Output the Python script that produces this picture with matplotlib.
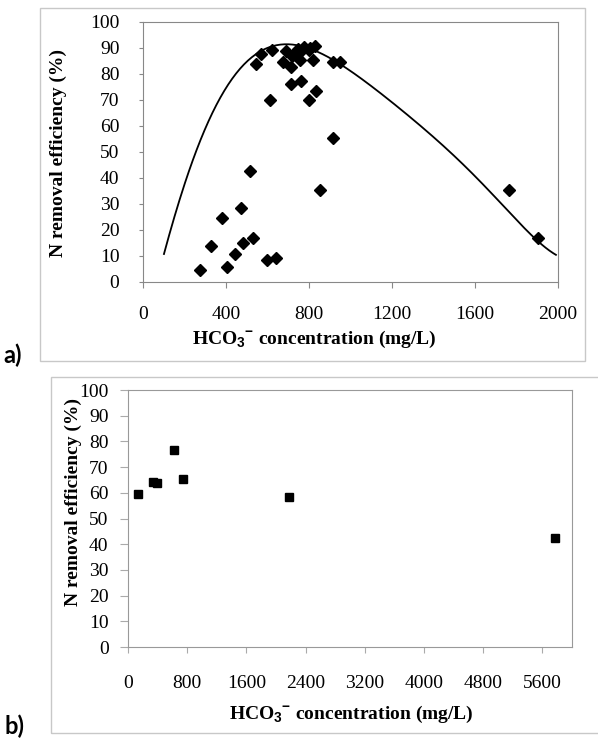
import numpy as np
import matplotlib
matplotlib.use("Agg")
import matplotlib.pyplot as plt
from matplotlib.patches import Rectangle

plt.rcParams['font.family'] = 'serif'
plt.rcParams['font.serif'] = ['Liberation Serif', 'DejaVu Serif']
plt.rcParams['mathtext.fontset'] = 'custom'
plt.rcParams['mathtext.rm'] = 'Liberation Serif'
plt.rcParams['mathtext.bf'] = 'Liberation Sans:bold'

# panel a) measured points
a_x = [273, 327, 383, 404, 441, 472, 481, 515, 528, 545, 571, 598, 614, 624,
       643, 674, 688, 712, 715, 719, 747, 757, 760, 763, 774, 799, 800, 807,
       821, 829, 834, 855, 916, 916, 948, 1766, 1904]
a_y = [4.8, 14.0, 24.7, 5.8, 10.7, 28.3, 15.0, 42.7, 16.8, 83.9, 87.7, 8.5,
       69.9, 89.3, 9.1, 84.6, 88.9, 82.6, 76.2, 87.1, 89.7, 85.3, 77.5, 88.9,
       90.2, 89.1, 70.1, 90.0, 85.2, 90.7, 73.4, 35.2, 84.8, 55.5, 84.6, 35.2,
       16.8]

# panel a) trend curve
curve_x = [101, 146, 194, 251, 323, 411, 532, 628, 661, 740, 821, 949, 1094,
           1239, 1335, 1447, 1640, 1833, 1990]
curve_y = [10.4, 23.8, 36.7, 49.5, 62.3, 75.1, 88.0, 91.2, 91.5, 90.8, 88.6,
           84.1, 75.1, 67.4, 60.4, 52.0, 37.3, 21.3, 10.4]

# panel b) measured points
b_x = [131, 342, 387, 622, 743, 2171, 5766]
b_y = [59.6, 64.2, 63.8, 76.7, 65.5, 58.4, 42.4]

a_xticks = [0, 400, 800, 1200, 1600, 2000]
b_xticks = [0, 800, 1600, 2400, 3200, 4000, 4800, 5600]
yticks = list(range(0, 101, 10))

W, H = 598, 738
fs = 14
fig = plt.figure(figsize=(W / 100, H / 100), dpi=100)

# outer frames
fig.patches.append(Rectangle((40 / W, 1 - 361 / H), 545 / W, 353 / H,
                             transform=fig.transFigure, fill=False,
                             edgecolor='#c8c8c8', lw=1.0))
fig.patches.append(Rectangle((51 / W, 1 - 733 / H), 560 / W, 356 / H,
                             transform=fig.transFigure, fill=False,
                             edgecolor='#c8c8c8', lw=1.0))

xlabel = r'HCO$_\mathbf{3}$$^\mathbf{-}$ concentration (mg/L)'
ylabel = 'N removal efficiency (%)'

# ---- panel a
ax1 = fig.add_axes([143 / W, 1 - 282 / H, 415 / W, 260 / H])
fit = np.polyfit(curve_x, curve_y, 6)
xs = np.linspace(curve_x[0], curve_x[-1], 300)
ax1.plot(xs, np.polyval(fit, xs), color='black', lw=1.3)
ax1.plot(a_x, a_y, linestyle='none', marker='D', ms=6, color='black')
ax1.set_xlim(0, 2000)
ax1.set_ylim(0, 100)
ax1.set_xticks(a_xticks)
ax1.set_yticks(yticks)
ax1.tick_params(axis='x', direction='out', length=4, color='#888888',
                labelsize=fs, pad=13)
ax1.tick_params(axis='y', direction='out', length=3, color='#888888',
                labelsize=fs, pad=14)
for s in ax1.spines.values():
    s.set_color('#888888')
ax1.set_xlabel(xlabel, fontsize=fs, fontweight='bold')
ax1.set_ylabel(ylabel, fontsize=fs, fontweight='bold')
ax1.xaxis.set_label_coords(0.412, -0.18)
ax1.yaxis.set_label_coords(-0.183, 0.496)

# ---- panel b
ax2 = fig.add_axes([128 / W, 1 - 647 / H, 444 / W, 257 / H])
ax2.plot(b_x, b_y, linestyle='none', marker='s', ms=6, color='black')
ax2.set_xlim(0, 6000)
ax2.set_ylim(0, 100)
ax2.set_xticks(b_xticks)
ax2.set_yticks(yticks)
ax2.tick_params(axis='x', direction='out', length=4, color='#aaaaaa',
                labelsize=fs, pad=16)
ax2.tick_params(axis='y', direction='out', length=6, color='#aaaaaa',
                labelsize=fs, pad=8)
for s in ax2.spines.values():
    s.set_color('#999999')
ax2.set_xlabel(xlabel, fontsize=fs, fontweight='bold')
ax2.set_ylabel(ylabel, fontsize=fs, fontweight='bold')
ax2.xaxis.set_label_coords(0.502, -0.222)
ax2.yaxis.set_label_coords(-0.104, 0.565)

fig.text(3 / W, 1 - 367 / H, 'a)', fontsize=17, fontweight='bold',
         family=['Lato', 'DejaVu Sans'], ha='left', va='bottom')
fig.text(5 / W, 1 - 738 / H, 'b)', fontsize=17, fontweight='bold',
         family=['Lato', 'DejaVu Sans'], ha='left', va='bottom')

fig.savefig('out.png', dpi=100)
